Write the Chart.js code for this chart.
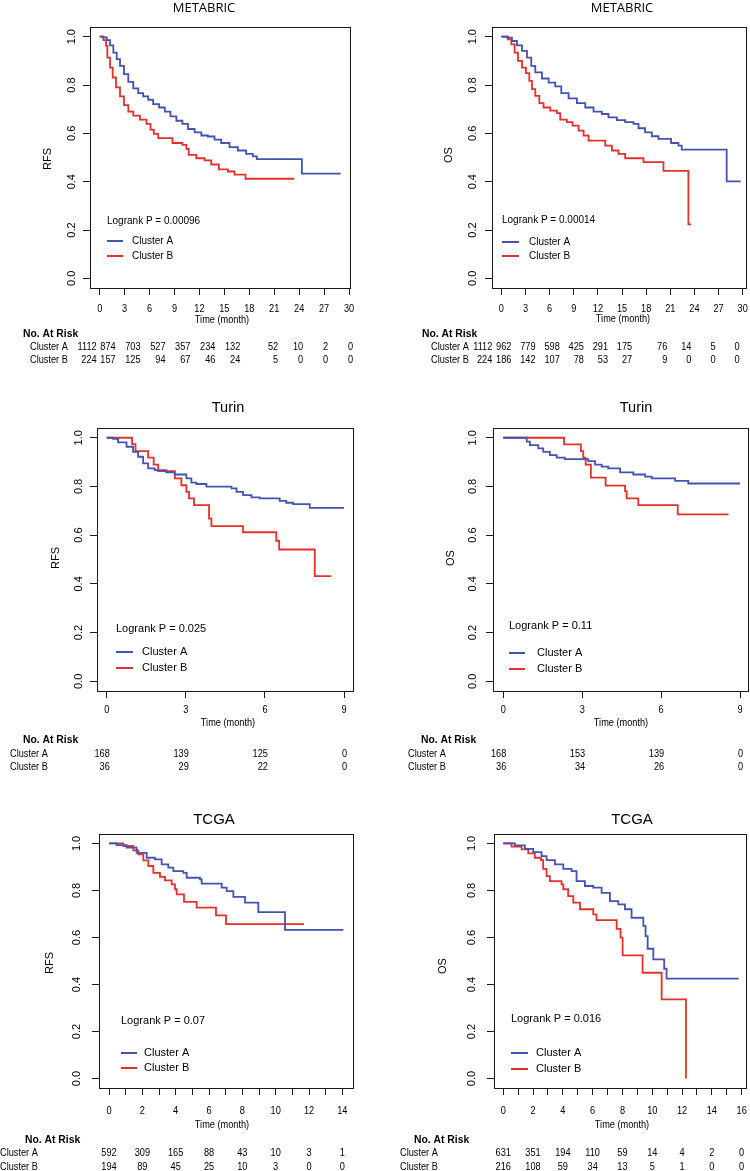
<!DOCTYPE html>
<html>
<head>
<meta charset="utf-8">
<script src="https://cdn.jsdelivr.net/npm/chart.js@4.4.1/dist/chart.umd.min.js"></script>
<style>
  body { margin: 0; background: #fff; }
  #fig { position: relative; width: 750px; height: 1171px; overflow: hidden; background: #fff; }
  #fig canvas { position: absolute; }
</style>
</head>
<body>
<div id="fig">
  <canvas id="c1" width="375" height="370" style="left:0;top:0"></canvas>
  <canvas id="c2" width="375" height="370" style="left:375px;top:0"></canvas>
  <canvas id="c3" width="375" height="395" style="left:0;top:385px"></canvas>
  <canvas id="c4" width="375" height="395" style="left:375px;top:385px"></canvas>
  <canvas id="c5" width="375" height="381" style="left:0;top:790px"></canvas>
  <canvas id="c6" width="375" height="381" style="left:375px;top:790px"></canvas>
</div>
<script>
// ---- data ----
const yTicks = [0, 0.2, 0.4, 0.6, 0.8, 1.0];

// METABRIC RFS
const metaRfsTimeA = [0, .44, .84, 1.24, 1.64, 2.04, 2.44, 2.92, 3.44, 4.04, 4.63, 5.23, 5.83, 6.43, 7.15, 7.83, 8.51, 9.23, 9.95, 10.63, 11.43, 12.23, 13.02, 13.82, 14.62, 15.62, 16.62, 17.62, 18.42, 18.9, 24.33, 29.0];
const metaRfsSurvA = [1, .997, .986, .964, .934, .907, .879, .845, .813, .786, .766, .753, .739, .721, .707, .690, .670, .652, .639, .618, .604, .591, .587, .574, .560, .543, .529, .515, .505, .493, .433, .433];
const metaRfsTimeB = [0, .44, .76, .92, 1.24, 1.56, 1.96, 2.44, 2.92, 3.44, 4.04, 4.83, 5.63, 6.11, 6.51, 7.03, 8.75, 9.95, 10.43, 10.71, 11.63, 12.62, 13.42, 14.34, 15.42, 16.22, 17.54, 23.41];
const metaRfsSurvB = [1, .986, .962, .913, .872, .831, .790, .753, .717, .690, .673, .657, .639, .615, .598, .580, .560, .552, .536, .511, .497, .488, .471, .451, .442, .429, .412, .412];
// METABRIC OS
const metaOsTimeA = [0, .70, 1.32, 1.94, 2.57, 3.19, 3.72, 4.22, 5.05, 5.88, 6.70, 7.45, 8.36, 9.39, 10.43, 11.46, 12.49, 13.32, 14.36, 15.39, 16.43, 17.05, 17.87, 18.70, 19.53, 21.10, 22.01, 22.42, 28.01, 29.75];
const metaOsSurvA = [1, .996, .982, .964, .941, .913, .879, .852, .827, .810, .794, .766, .745, .725, .707, .690, .680, .666, .655, .646, .639, .621, .604, .588, .577, .560, .549, .533, .401, .401];
const metaOsTimeB = [0, .83, 1.24, 1.65, 2.07, 2.57, 3.06, 3.48, 3.81, 4.22, 4.72, 5.25, 6.08, 6.91, 7.32, 8.15, 8.85, 9.60, 10.22, 10.84, 12.91, 13.74, 14.56, 15.39, 17.67, 20.15, 23.25, 23.58];
const metaOsSurvB = [1, .989, .968, .934, .900, .872, .849, .817, .783, .755, .725, .707, .694, .684, .657, .646, .632, .611, .591, .570, .549, .529, .515, .497, .481, .445, .223, .223];
const metaTicks = [0, 3, 6, 9, 12, 15, 18, 21, 24, 27, 30];
const metaRfsRiskA = [1112, 874, 703, 527, 357, 234, 132, 52, 10, 2, 0];
const metaRfsRiskB = [224, 157, 125, 94, 67, 46, 24, 5, 0, 0, 0];
const metaOsRiskA = [1112, 962, 779, 598, 425, 291, 175, 76, 14, 5, 0];
const metaOsRiskB = [224, 186, 142, 107, 78, 53, 27, 9, 0, 0, 0];

// Turin RFS
const turinRfsTimeA = [0, .24, .43, .75, 1.0, 1.19, 1.38, 1.57, 1.82, 2.26, 2.58, 3.02, 3.21, 3.40, 3.78, 4.73, 4.92, 5.17, 5.49, 5.80, 6.56, 6.81, 7.07, 7.70, 9.0];
const turinRfsSurvA = [1, .995, .981, .963, .942, .922, .895, .874, .867, .858, .849, .833, .816, .810, .799, .792, .778, .764, .755, .751, .741, .733, .727, .712, .712];
const turinRfsTimeB = [0, .96, 1.09, 1.57, 1.78, 1.95, 2.58, 2.83, 3.02, 3.12, 3.31, 3.88, 3.97, 5.17, 6.43, 6.54, 7.89, 8.52];
const turinRfsSurvB = [1, .974, .945, .918, .890, .863, .833, .805, .778, .751, .723, .668, .637, .612, .577, .541, .432, .432];
// Turin OS
const turinOsTimeA = [0, .89, 1.01, 1.33, 1.52, 1.77, 2.03, 2.34, 3.23, 3.49, 3.74, 3.99, 4.44, 4.94, 5.39, 5.64, 6.53, 7.03, 9.0];
const turinOsSurvA = [1, .984, .970, .956, .942, .929, .918, .912, .904, .890, .881, .874, .858, .849, .840, .833, .823, .812, .812];
const turinOsTimeB = [0, 2.31, 2.95, 3.04, 3.13, 3.33, 3.89, 4.63, 4.69, 5.13, 6.63, 8.56];
const turinOsSurvB = [1, .973, .945, .918, .890, .836, .803, .781, .751, .723, .685, .685];
const turinTicks = [0, 3, 6, 9];
const turinRfsRiskA = [168, 139, 125, 0];
const turinRfsRiskB = [36, 29, 22, 0];
const turinOsRiskA = [168, 153, 139, 0];
const turinOsRiskB = [36, 34, 26, 0];

// TCGA RFS
const tcgaRfsTimeA = [0, .46, 1.06, 1.66, 2.26, 2.76, 3.16, 3.56, 3.86, 4.46, 4.66, 5.46, 5.56, 6.76, 7.06, 7.46, 8.16, 8.96, 10.56, 14.06];
const tcgaRfsSurvA = [1, .993, .982, .960, .939, .932, .911, .897, .882, .875, .854, .847, .829, .812, .797, .773, .748, .708, .632, .632];
const tcgaRfsTimeB = [0, .86, 1.46, 1.76, 2.06, 2.36, 2.66, 3.06, 3.36, 3.76, 3.96, 4.06, 4.5, 5.26, 6.42, 7.02, 11.7];
const tcgaRfsSurvB = [1, .989, .970, .953, .928, .904, .875, .858, .843, .826, .805, .783, .751, .727, .694, .657, .657];
// TCGA OS
const tcgaOsTimeA = [0, .78, 1.45, 2.01, 2.57, 2.91, 3.47, 4.03, 4.59, 4.92, 5.48, 6.04, 6.6, 7.16, 7.72, 8.17, 8.61, 9.4, 9.55, 9.69, 10.07, 10.8, 10.96, 15.8];
const tcgaOsSurvA = [1, .992, .977, .963, .946, .929, .911, .892, .882, .840, .819, .812, .790, .755, .741, .720, .684, .649, .606, .552, .507, .467, .425, .425];
const tcgaOsTimeB = [0, .56, 1.23, 1.68, 2.12, 2.53, 2.68, 2.91, 3.13, 3.91, 4.03, 4.36, 4.7, 5.15, 6.04, 6.26, 7.61, 7.87, 8.01, 9.35, 10.63, 12.26];
const tcgaOsSurvB = [1, .986, .975, .958, .939, .929, .892, .861, .840, .826, .805, .776, .748, .720, .698, .674, .637, .599, .524, .450, .337, 0];
const tcgaRfsTicks = [0, 1, 2, 3, 4, 5, 6, 7, 8, 9, 10, 11, 12, 13, 14];
const tcgaOsTicks = [0, 1, 2, 3, 4, 5, 6, 7, 8, 9, 10, 11, 12, 13, 14, 15, 16];
const tcgaRfsRiskTimes = [0, 2, 4, 6, 8, 10, 12, 14];
const tcgaOsRiskTimes = [0, 2, 4, 6, 8, 10, 12, 14, 16];
const tcgaRfsRiskA = [592, 309, 165, 88, 43, 10, 3, 1];
const tcgaRfsRiskB = [194, 89, 45, 25, 10, 3, 0, 0];
const tcgaOsRiskA = [631, 351, 194, 110, 59, 14, 4, 2, 0];
const tcgaOsRiskB = [216, 108, 59, 34, 13, 5, 1, 0, 0];

// ---- styles ----
const BLUE = '#4353b3';
const RED = '#e6302b';
const INK = '#1a1a1a';
const SANS = '"Liberation Sans", Arial, Helvetica, sans-serif';
const SQUEEZE = 0.8;   // narrow (Arial Narrow-like) text is drawn as squeezed Liberation Sans

const panels = [
  { id: 'c1', box: { l: 90, t: 27, r: 350, b: 288 }, xMin: -1.17, xMax: 30.12, xTicks: metaTicks, xLabY: 309,
    title: 'METABRIC', titleFont: '13px "Open Sans", ' + SANS, titleX: 204, titleY: 8,
    curves: [[metaRfsTimeA, metaRfsSurvA], [metaRfsTimeB, metaRfsSurvB]],
    yTitle: 'RFS', yTitleX: 48, yTitleY: 159, yLabX: 72,
    pText: 'Logrank P = 0.00096', legX: 107, pY: 221, legRows: [241, 256], lineLen: 16, legTextX: 132, legSize: 10,
    timeX: 222, timeY: 320, headX: 23, headY: 334, rowLabelX: 30, rowY: [347, 360],
    riskTimes: metaTicks, riskA: metaRfsRiskA, riskB: metaRfsRiskB, align: 'right', firstShift: -3, bigShift: -9, smallShift: 4 },
  { id: 'c2', box: { l: 117, t: 27, r: 371, b: 288 }, xMin: -1.16, xMax: 30.41, xTicks: metaTicks, xLabY: 309,
    title: 'METABRIC', titleFont: '13px "Open Sans", ' + SANS, titleX: 247, titleY: 8,
    curves: [[metaOsTimeA, metaOsSurvA], [metaOsTimeB, metaOsSurvB]],
    yTitle: 'OS', yTitleX: 74, yTitleY: 155, yLabX: 98,
    pText: 'Logrank P = 0.00014', legX: 127, pY: 220, legRows: [242, 256], lineLen: 17, legTextX: 154, legSize: 10,
    timeX: 248, timeY: 319, headX: 47, headY: 334, rowLabelX: 56, rowY: [347, 360],
    riskTimes: metaTicks, riskA: metaOsRiskA, riskB: metaOsRiskB, align: 'right', firstShift: -9, bigShift: -14, smallShift: -3 },
  { id: 'c3', box: { l: 97, t: 43, r: 353, b: 306 }, xMin: -0.37, xMax: 9.34, xTicks: turinTicks, xLabY: 325,
    title: 'Turin', titleFont: '14.5px ' + SANS, titleX: 228, titleY: 23,
    curves: [[turinRfsTimeA, turinRfsSurvA], [turinRfsTimeB, turinRfsSurvB]],
    yTitle: 'RFS', yTitleX: 56, yTitleY: 173, yLabX: 79,
    pText: 'Logrank P = 0.025', legX: 116, pY: 244, legRows: [267, 283], lineLen: 17, legTextX: 142, legSize: 11,
    timeX: 228, timeY: 338, headX: 23, headY: 355, rowLabelX: 10, rowY: [369, 382],
    riskTimes: turinTicks, riskA: turinRfsRiskA, riskB: turinRfsRiskB, align: 'right', firstShift: 3, bigShift: 3, smallShift: 3 },
  { id: 'c4', box: { l: 118, t: 43, r: 373, b: 306 }, xMin: -0.39, xMax: 9.30, xTicks: turinTicks, xLabY: 325,
    title: 'Turin', titleFont: '14.5px ' + SANS, titleX: 261, titleY: 23,
    curves: [[turinOsTimeA, turinOsSurvA], [turinOsTimeB, turinOsSurvB]],
    yTitle: 'OS', yTitleX: 76, yTitleY: 173, yLabX: 98,
    pText: 'Logrank P = 0.11', legX: 134, pY: 241, legRows: [268, 284], lineLen: 16, legTextX: 162, legSize: 11,
    timeX: 246, timeY: 338, headX: 46, headY: 355, rowLabelX: 33, rowY: [369, 382],
    riskTimes: turinTicks, riskA: turinOsRiskA, riskB: turinOsRiskB, align: 'right', firstShift: 3, bigShift: 3, smallShift: 3 },
  { id: 'c5', box: { l: 99, t: 44, r: 353, b: 298 }, xMin: -0.6, xMax: 14.64, xTicks: tcgaRfsTicks, xLabY: 321, evenOnly: true,
    title: 'TCGA', titleFont: '15px ' + SANS, titleX: 214, titleY: 30,
    curves: [[tcgaRfsTimeA, tcgaRfsSurvA], [tcgaRfsTimeB, tcgaRfsSurvB]],
    yTitle: 'RFS', yTitleX: 50, yTitleY: 173, yLabX: 77,
    pText: 'Logrank P = 0.07', legX: 121, pY: 231, legRows: [263, 278], lineLen: 16, legTextX: 144, legSize: 11,
    timeX: 222, timeY: 335, headX: 25, headY: 350, rowLabelX: 0, rowY: [363, 377],
    riskTimes: tcgaRfsRiskTimes, riskA: tcgaRfsRiskA, riskB: tcgaRfsRiskB, align: 'center', firstShift: 0, bigShift: 0, smallShift: 0 },
  { id: 'c6', box: { l: 119, t: 44, r: 371, b: 298 }, xMin: -0.62, xMax: 16.29, xTicks: tcgaOsTicks, xLabY: 321, evenOnly: true,
    title: 'TCGA', titleFont: '15px ' + SANS, titleX: 257, titleY: 30,
    curves: [[tcgaOsTimeA, tcgaOsSurvA], [tcgaOsTimeB, tcgaOsSurvB]],
    yTitle: 'OS', yTitleX: 68, yTitleY: 176, yLabX: 97,
    pText: 'Logrank P = 0.016', legX: 136, pY: 229, legRows: [263, 279], lineLen: 17, legTextX: 161, legSize: 11,
    timeX: 247, timeY: 335, headX: 39, headY: 350, rowLabelX: 25, rowY: [363, 377],
    riskTimes: tcgaOsRiskTimes, riskA: tcgaOsRiskA, riskB: tcgaOsRiskB, align: 'center', firstShift: 0, bigShift: 0, smallShift: 0 }
];

// squeezed text, to mimic the narrow font of the original
function narrowText(ctx, text, x, y, align, sx = SQUEEZE) {
  ctx.save();
  ctx.translate(x, y);
  ctx.scale(sx, 1);
  ctx.textAlign = align;
  ctx.fillText(text, 0, 0);
  ctx.restore();
}

// Box, axis labels, titles, legend and risk table
const kmDecor = {
  id: 'kmDecor',
  afterDraw(chart) {
    const p = chart.options.plugins.kmDecor;
    const { ctx, chartArea: a } = chart;
    const x = chart.scales.x, y = chart.scales.y;
    ctx.save();
    ctx.strokeStyle = INK;
    ctx.lineWidth = 1;
    ctx.strokeRect(Math.round(a.left) + .5, Math.round(a.top) + .5, Math.round(a.right - a.left), Math.round(a.bottom - a.top));

    ctx.fillStyle = '#000';
    ctx.textBaseline = 'middle';

    // y tick labels, rotated like R
    ctx.font = '11px ' + SANS;
    ctx.textAlign = 'center';
    yTicks.forEach(v => {
      ctx.save();
      ctx.translate(p.yLabX, y.getPixelForValue(v));
      ctx.rotate(-Math.PI / 2);
      ctx.fillText(v.toFixed(1), 0, 0);
      ctx.restore();
    });
    // y title
    ctx.save();
    ctx.translate(p.yTitleX, p.yTitleY);
    ctx.rotate(-Math.PI / 2);
    ctx.fillText(p.yTitle, 0, 0);
    ctx.restore();

    // panel title
    ctx.font = p.titleFont;
    ctx.fillText(p.title, p.titleX, p.titleY);

    // legend
    ctx.font = p.legSize + 'px ' + SANS;
    ctx.textAlign = 'left';
    ctx.fillText(p.pText, p.legX, p.pY);
    [BLUE, RED].forEach((c, i) => {
      ctx.strokeStyle = c;
      ctx.lineWidth = 2;
      ctx.beginPath();
      ctx.moveTo(p.legX, p.legRows[i]);
      ctx.lineTo(p.legX + p.lineLen, p.legRows[i]);
      ctx.stroke();
      ctx.fillText(i === 0 ? 'Cluster A' : 'Cluster B', p.legTextX, p.legRows[i]);
    });

    // x tick labels
    ctx.font = '11.5px ' + SANS;
    p.xTicks.forEach(v => {
      if (p.evenOnly && v % 2 !== 0) return;
      narrowText(ctx, String(v), x.getPixelForValue(v), p.xLabY, 'center');
    });

    // x title + risk table
    narrowText(ctx, 'Time (month)', p.timeX, p.timeY, 'center');
    ctx.font = 'bold 11.5px ' + SANS;
    narrowText(ctx, 'No. At Risk', p.headX, p.headY, 'left', 0.9);
    ctx.font = '11.5px ' + SANS;
    narrowText(ctx, 'Cluster A', p.rowLabelX, p.rowY[0], 'left');
    narrowText(ctx, 'Cluster B', p.rowLabelX, p.rowY[1], 'left');
    [p.riskA, p.riskB].forEach((row, r) => {
      row.forEach((n, i) => {
        const shift = i === 0 ? p.firstShift : (p.riskA[i] >= 100 ? p.bigShift : p.smallShift);
        narrowText(ctx, String(n), x.getPixelForValue(p.riskTimes[i]) + shift, p.rowY[r], p.align);
      });
    });
    ctx.restore();
  }
};

function makeChart(p) {
  const cv = document.getElementById(p.id);
  const W = cv.width, H = cv.height;
  new Chart(cv, {
    type: 'line',
    data: {
      datasets: p.curves.map((c, i) => ({
        data: c[0].map((t, k) => ({ x: t, y: c[1][k] })),
        borderColor: i === 0 ? BLUE : RED,
        borderWidth: 1.8,
        stepped: true,
        pointRadius: 0,
        fill: false
      }))
    },
    options: {
      responsive: false,
      animation: false,
      devicePixelRatio: 1,
      layout: { padding: { top: p.box.t, right: W - p.box.r, left: 0, bottom: 0 } },
      plugins: { legend: { display: false }, tooltip: { enabled: false }, kmDecor: p },
      scales: {
        x: {
          type: 'linear', min: p.xMin, max: p.xMax,
          afterBuildTicks: s => { s.ticks = p.xTicks.map(v => ({ value: v })); },
          afterFit: s => { s.height = H - p.box.b; s.paddingLeft = 0; s.paddingRight = 0; },
          border: { display: false },
          grid: { drawOnChartArea: false, drawTicks: true, tickLength: 7, color: INK },
          ticks: { display: false }
        },
        y: {
          type: 'linear', min: -0.04, max: 1.04,
          afterBuildTicks: s => { s.ticks = yTicks.map(v => ({ value: v })); },
          afterFit: s => { s.width = p.box.l; s.paddingTop = 0; s.paddingBottom = 0; },
          border: { display: false },
          grid: { drawOnChartArea: false, drawTicks: true, tickLength: 7, color: INK },
          ticks: { display: false }
        }
      }
    },
    plugins: [kmDecor]
  });
}

panels.forEach(makeChart);
</script>
</body>
</html>
